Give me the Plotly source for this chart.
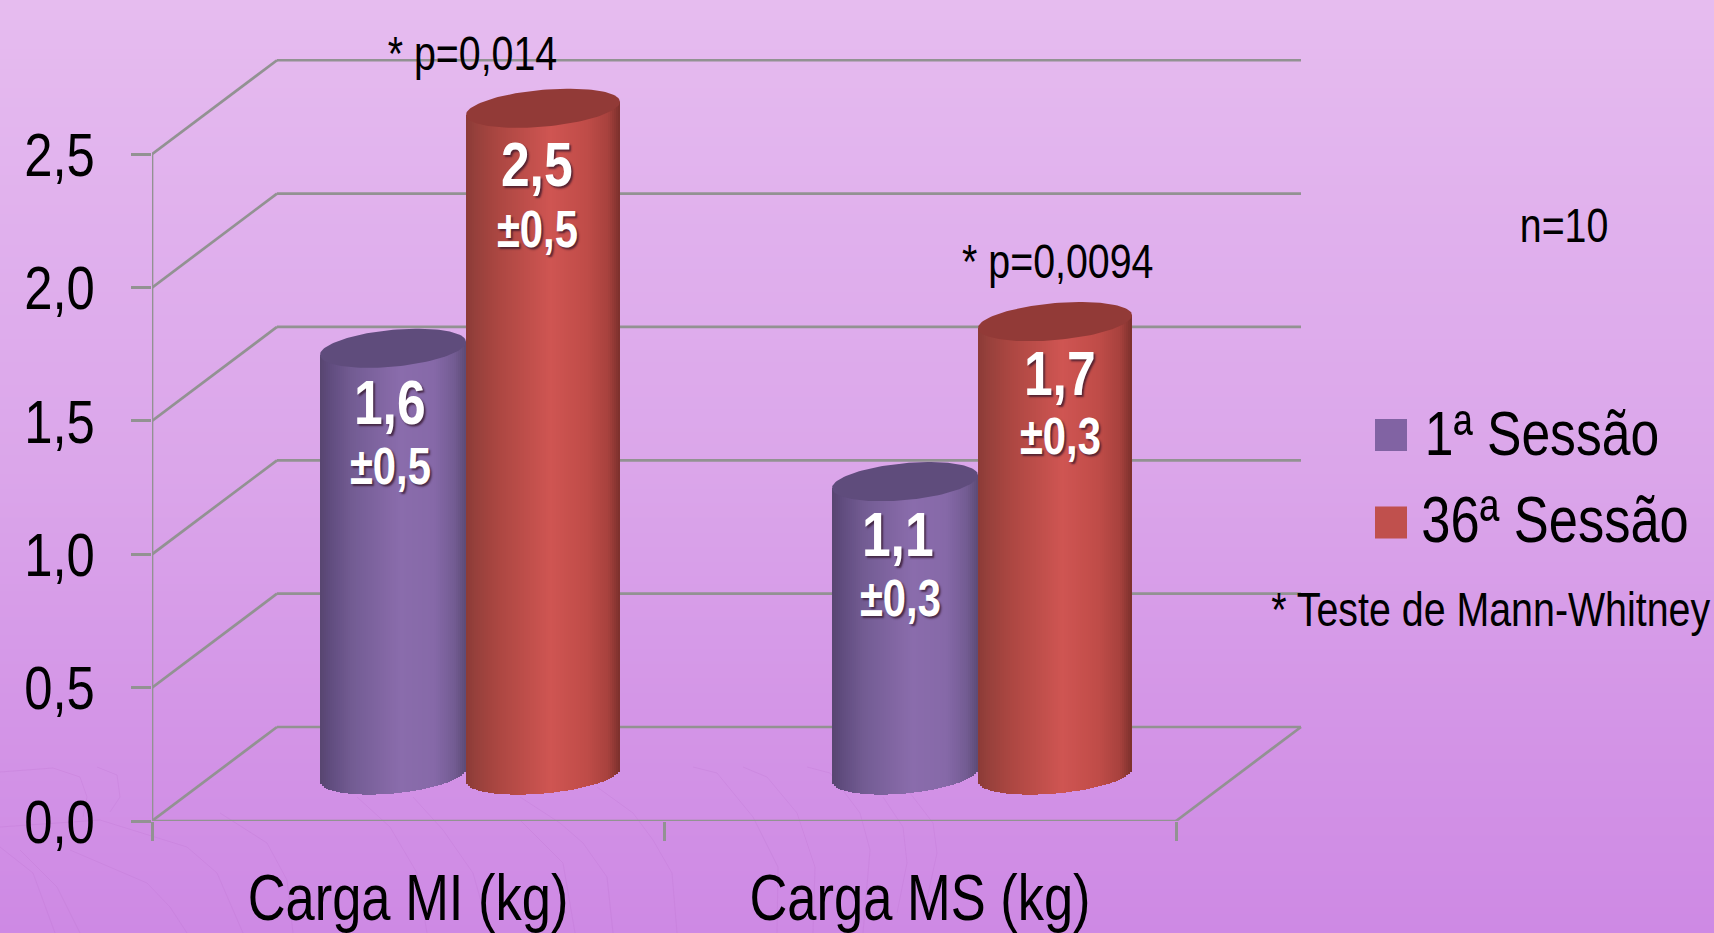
import numpy as np
import plotly.graph_objects as go

# --- chart data ---
categories = ["Carga MI (kg)", "Carga MS (kg)"]
session_names = ["1ª Sessão", "36ª Sessão"]
session_1 = [1.6, 1.1]
session_36 = [2.5, 1.7]
sd_1 = ["±0,5", "±0,3"]
sd_36 = ["±0,5", "±0,3"]
value_ticks = [0.0, 0.5, 1.0, 1.5, 2.0, 2.5]
value_tick_labels = ["0,0", "0,5", "1,0", "1,5", "2,0", "2,5"]

# --- page geometry (pixels) ---
W, H = 1714, 933
AX_L, AX_R, AX_B, AX_T = 152, 1306, 821, 55
PX_PER_SLOT = 512.0
PX_PER_UNIT = 266.7

# --- oblique projection of the box, in axis units ---
DEPTH_X = 125 / PX_PER_SLOT
DEPTH_Y = 94 / PX_PER_UNIT
BAR_SHIFT_X = 58 / PX_PER_SLOT
BAR_SHIFT_Y = 46 / PX_PER_UNIT
HALF_W = {"p": 73 / PX_PER_SLOT, "r": 77 / PX_PER_SLOT}
CAP_B = 18.5 / PX_PER_UNIT
CAP_TILT = 6.5 / PX_PER_UNIT

GRID = "#929292"
FONT = "Liberation Sans, Arial, sans-serif"
NARROW = 0.82  # horizontal squeeze applied to every text when the page loads
SHADE_STOPS = [0.0, 0.06, 0.22, 0.55, 0.78, 0.92, 1.0]
PURPLE_SHADE = ["#57456f", "#5f4b7d", "#735c93", "#8a6cac", "#8669a8", "#735c93", "#5c4a76"]
RED_SHADE = ["#8b3a36", "#96403b", "#ad4742", "#cf5552", "#c04c48", "#a8423e", "#7a2f2b"]
PURPLE_CAP, RED_CAP = "#5f4c7c", "#923a37"
PURPLE_KEY, RED_KEY = "#8163a3", "#c0504d"

# Faint veins in the lower part of the backdrop, in page pixels
backdrop_veins = [
    [(597, 787), (633, 813), (653, 840), (672, 873), (677, 933)],
    [(520, 797), (560, 823), (583, 843), (607, 877), (613, 933)],
    [(520, 820), (563, 863), (575, 933)],
    [(693, 767), (717, 773), (753, 817), (778, 867), (777, 933)],
    [(743, 767), (767, 777), (797, 813), (815, 867), (813, 933)],
    [(807, 767), (830, 773), (860, 813), (870, 850), (863, 933)],
    [(883, 797), (903, 827), (907, 863), (897, 913)],
    [(910, 793), (933, 823), (937, 853), (923, 917)],
    [(0, 772), (53, 768), (80, 777), (87, 797), (83, 817)],
    [(97, 767), (117, 775), (120, 797), (110, 812)],
    [(0, 827), (100, 820), (187, 847), (217, 873), (243, 933)],
    [(70, 850), (147, 883), (170, 907), (187, 933)],
    [(0, 847), (33, 873), (55, 933)],
    [(20, 850), (57, 887), (80, 933)],
    [(357, 797), (390, 827), (417, 873), (427, 933)],
    [(413, 797), (443, 830), (473, 873), (490, 933)],
    [(220, 813), (267, 843), (287, 880), (293, 933)],
]


def hex_rgb(c):
    return [int(c[i:i + 2], 16) for i in (1, 3, 5)]


def shade(t, palette):
    rgb = [np.interp(t, SHADE_STOPS, [hex_rgb(c)[k] for c in palette]) for k in range(3)]
    return "rgb({:.0f},{:.0f},{:.0f})".format(*rgb)


fig = go.Figure()

# Backdrop gradient on its own pixel-unit axes
bg_rows = [0, 233, 466, 700, 933]
bg_cols = [0, W]
fig.add_trace(go.Heatmap(
    x=bg_cols, y=bg_rows, z=[[r, r] for r in bg_rows], zsmooth="best", showscale=False,
    hoverinfo="skip", zmin=0, zmax=933, xaxis="x", yaxis="y",
    colorscale=[[0, "#e6bcef"], [0.25, "#e0b0ed"], [0.5, "#dba6ea"], [0.75, "#d496e7"], [1, "#ce89e4"]],
))
vein_x, vein_y = [], []
for vein in backdrop_veins:
    vein_x += [p[0] for p in vein] + [None]
    vein_y += [p[1] for p in vein] + [None]
fig.add_trace(go.Scatter(
    x=vein_x, y=vein_y, mode="lines", line=dict(color="rgba(188,110,205,0.22)", width=1),
    xaxis="x", yaxis="y", hoverinfo="skip", showlegend=False,
))


def add_cylinder(center, value, half_w, palette, cap_colour):
    """One cylinder: vertical strips for the body, an ellipse for the lid."""
    strip = 2 / PX_PER_SLOT
    xs = np.arange(center - half_w + strip / 2, center + half_w, strip)
    u = np.clip((xs - center) / half_w, -1, 1)
    arc = CAP_B * np.sqrt(1 - u ** 2)
    floor_y = BAR_SHIFT_Y + CAP_TILT * u - arc
    top_y = BAR_SHIFT_Y + value + CAP_TILT * u
    fig.add_trace(go.Bar(
        x=xs, base=floor_y, y=top_y - floor_y, width=strip,
        marker=dict(color=[shade((k + 1) / 2, palette) for k in u], line_width=0),
        xaxis="x2", yaxis="y2", hoverinfo="skip", showlegend=False,
    ))
    a = np.linspace(0, 2 * np.pi, 121)
    fig.add_trace(go.Scatter(
        x=center + half_w * np.cos(a),
        y=BAR_SHIFT_Y + value + CAP_TILT * np.cos(a) + CAP_B * np.sin(a),
        mode="lines", fill="toself", fillcolor=cap_colour, line=dict(width=0),
        xaxis="x2", yaxis="y2", hoverinfo="skip", showlegend=False,
    ))


annotations = []


def value_label(x, y, text, size, shift_y, shift_x=0):
    annotations.append(dict(
        x=x, y=y, xref="x2", yref="y2", text=text, showarrow=False, xshift=shift_x, yshift=shift_y,
        font=dict(family=FONT, size=size, color="white", weight="bold",
                  shadow="2px 2px 2px rgba(50,20,40,0.75)"),
    ))


label_shift_1 = [(-3, -3), (-7, -5)]
label_shift_36 = [(-6, -6), (5, 5)]
main_drop = [(-54, -118), (-52, -117)]
red_drop = [(-56, -121), (-51, -115)]

for i, _ in enumerate(categories):
    group = i + 0.5 + BAR_SHIFT_X
    c1 = group - HALF_W["p"]
    c2 = group + HALF_W["r"]
    add_cylinder(c1, session_1[i], HALF_W["p"], PURPLE_SHADE, PURPLE_CAP)
    add_cylinder(c2, session_36[i], HALF_W["r"], RED_SHADE, RED_CAP)
    y1 = session_1[i] + BAR_SHIFT_Y
    y2 = session_36[i] + BAR_SHIFT_Y
    value_label(c1, y1, f"{session_1[i]:.1f}".replace(".", ","), 63, main_drop[i][0], label_shift_1[i][0])
    value_label(c1, y1, sd_1[i], 51, main_drop[i][1], label_shift_1[i][1])
    value_label(c2, y2, f"{session_36[i]:.1f}".replace(".", ","), 63, red_drop[i][0], label_shift_36[i][0])
    value_label(c2, y2, sd_36[i], 51, red_drop[i][1], label_shift_36[i][1])

# Legend keys
for name, colour, row in zip(session_names, [PURPLE_KEY, RED_KEY], [435, 522.5]):
    fig.add_trace(go.Scatter(
        x=[1391], y=[row], mode="markers", marker=dict(symbol="square", size=32, color=colour, line_width=0),
        xaxis="x", yaxis="y", hoverinfo="skip", showlegend=False, name=name,
    ))


def page_text(x, y, text, size):
    annotations.append(dict(
        x=x, y=y, xref="x", yref="y", text=text, showarrow=False, xanchor="center", yanchor="middle",
        font=dict(family=FONT, size=size, color="black"),
    ))


page_text(1542, 433, session_names[0], 63)
page_text(1555, 520, session_names[1], 64)
page_text(1490, 609, "* Teste de Mann-Whitney", 48)
page_text(1564, 225, "n=10", 48)
page_text(472, 53, "* p=0,014", 48)
page_text(1058, 261, "* p=0,0094", 48)

# Box walls and floor, drawn under the cylinders
shapes = []


def wall_line(x0, y0, x1, y1):
    shapes.append(dict(type="line", xref="x2", yref="y2", x0=x0, y0=y0, x1=x1, y1=y1, layer="below",
                       line=dict(color=GRID, width=2.7)))


n = len(categories)
for v in value_ticks:
    wall_line(0, v, DEPTH_X, v + DEPTH_Y)
    wall_line(DEPTH_X, v + DEPTH_Y, n + DEPTH_X, v + DEPTH_Y)
wall_line(0, 0, 0, max(value_ticks))
wall_line(0, 0, n, 0)
wall_line(n, 0, n + DEPTH_X, DEPTH_Y)

fig.update_layout(
    width=W, height=H, autosize=False, margin=dict(l=0, r=0, t=0, b=0, pad=0),
    paper_bgcolor="#dba6ea", plot_bgcolor="rgba(0,0,0,0)", showlegend=False, barmode="overlay", bargap=0,
    shapes=shapes, annotations=annotations,
    xaxis=dict(domain=[0, 1], range=[0, W], visible=False, fixedrange=True, automargin=False),
    yaxis=dict(domain=[0, 1], range=[H, 0], visible=False, fixedrange=True, automargin=False),
    xaxis2=dict(
        domain=[AX_L / W, AX_R / W], range=[0, (AX_R - AX_L) / PX_PER_SLOT], anchor="y2", automargin=False,
        tickvals=[0.5, 1.5], ticktext=categories, showgrid=False, zeroline=False, showline=False,
        ticks="", ticklabelstandoff=34, tickangle=0, tickfont=dict(family=FONT, size=64, color="black"),
        minor=dict(tickvals=list(range(n + 1)), ticks="outside", ticklen=19, tickwidth=2.7,
                   tickcolor=GRID, showgrid=False),
    ),
    yaxis2=dict(
        domain=[(H - AX_B) / H, (H - AX_T) / H], range=[0, (AX_B - AX_T) / PX_PER_UNIT], anchor="x2",
        automargin=False,
        tickvals=value_ticks, ticktext=value_tick_labels, showgrid=False, zeroline=False, showline=False,
        ticks="outside", ticklen=20, tickwidth=2.7, tickcolor=GRID, ticklabelstandoff=16,
        tickfont=dict(family=FONT, size=62, color="black"),
    ),
)

# Narrow every label in place so the text stays real, condensed type
squeeze_text = """
document.querySelectorAll('g.x2tick text, g.y2tick text, text.annotation-text').forEach(function (t) {
    var box = t.getBBox();
    var mid = box.x + box.width / 2;
    var had = t.getAttribute('transform') || '';
    t.setAttribute('transform', had + ' translate(' + mid + ',0) scale(%s,1) translate(' + (-mid) + ',0)');
});
""" % NARROW

fig.write_html("out.html", config={"displayModeBar": False}, post_script=squeeze_text)
